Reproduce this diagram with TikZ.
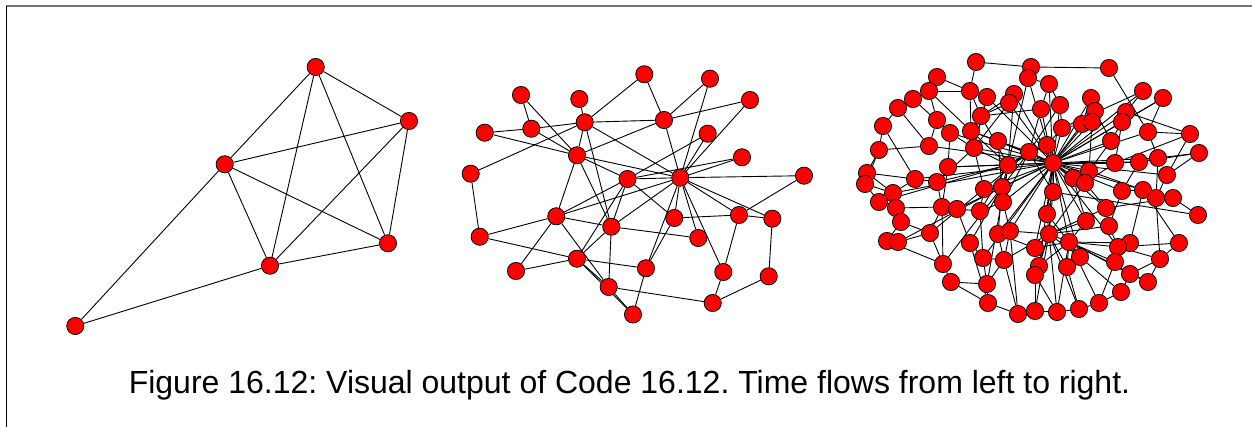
\documentclass[tikz,border=0pt]{standalone}
\usepackage{fontspec}
\setmainfont{Liberation Sans}
\pgfdeclarelayer{bg}
\pgfsetlayers{bg,main}
\frenchspacing
\begin{document}
\begin{tikzpicture}[x=1pt,y=-1pt,
  v/.style={circle,draw=black,fill=red,line width=0.75pt,minimum size=17.2pt,inner sep=0pt},
  e/.style={draw=black,line width=0.9pt},
  captiontext/.style={font=\fontsize{32pt}{36pt}\selectfont,anchor=base,inner sep=0pt}]
\useasboundingbox (0,0) rectangle (1252,427);
% frame
\draw[black!55,line width=2pt] (6,6.5) -- (1252,6.5);
\draw[black,line width=1pt] (6.5,6) -- (6.5,427);
% ---------- left graph ----------
\foreach \n/\x/\y in {a1/315.7/67, a2/409/121, a3/224.7/164.3, a4/388/243.3, a5/270/265.7, a6/75.3/326}
  \node[v] (\n) at (\x,\y) {};
% ---------- middle graph ----------
\foreach \n/\x/\y in {m1/521/95, m2/579.3/99, m3/584.7/122.3, m4/531.3/128.7, m5/484.7/132.7, m6/577/155.3,
  m7/470.7/173.7, m8/627.5/179, m9/556.3/216.3, m10/611.3/226.7, m11/479.7/236.7, m12/577/258.7,
  m13/516/271, m14/608.7/287, m15/633/314.5,
  n1/644.3/74.3, n2/710/78.7, n3/750/100, n4/664/120, n5/707.7/133.7, n6/742/157.3, n7/680.3/177.7,
  n8/804/175.7, n10/674.3/218, n11/739/215, n12/772.3/218.7, n13/698.3/238, n14/646/268.3,
  n15/723.3/272, n16/768.7/276.3, n17/712.7/303}
  \node[v] (\n) at (\x,\y) {};
% ---------- right graph ----------
\foreach \n/\x/\y in {r1/976/62, r2/1031/67, r3/1028/78, r4/937/77, r5/929/91, r6/970/91, r7/913/99,
  r8/987/97, r9/1014/94, r10/1009/103, r11/898/108, r12/981/116, r13/1041/109, r14/937/120,
  r15/883/126, r16/950/133, r17/971/131, r18/998/141, r19/974/148, r20/929/146, r21/879/150,
  r22/1029/152, r23/948/167, r24/1008/165, r25/867/173, r26/915/179, r27/937/182, r28/865/184,
  r29/893/193, r30/984/189, r31/1002/187, r32/1109/68, r33/1049/84, r34/1143/91, r35/1163/98,
  r36/1091/98, r37/1060/105, r38/1095/111, r39/1126/112, r40/1122/122, r41/1082/124, r42/1092/122,
  r43/1062/128, r44/1148/132, r45/1190/134, r46/1111/141, r47/1047/145, r48/1199/153, r49/1158/158,
  r50/1053/163, r51/1115/163, r52/1139/162, r53/1089/171, r54/1073/178, r55/1167/175, r56/1085/183,
  r57/1053/192, r58/1122/191, r59/1143/190, r60/1156/198, r61/1173/198, r62/1106/208, r63/1198/215,
  r64/1109/226, r65/1130/243, r66/1179/243, r67/1118/247, r68/1115/262, r69/1160/259, r70/1130/274,
  r71/1148/282, r72/1121/292, r73/1099/303, r74/1047/214, r75/1086/221, r76/1049/234, r77/1035/248,
  r78/1069/242, r79/1080/257, r80/1039/266, r81/1067/267, r82/1035/275, r83/1079/309, r84/1057/312,
  r85/1035/311, r87/879/202, r88/896/208, r89/942/207, r90/957/209, r91/980/211, r92/1003/202,
  r93/901/222, r94/930/233, r95/998/234, r96/1010/231, r97/970/243, r98/887/241, r99/898/242,
  r100/983/258, r101/1004/260, r102/943/264, r103/951/282, r104/987/284, r105/988/303, r106/1018/314}
  \node[v] (\n) at (\x,\y) {};
% caption
\node[captiontext] (caption) at (629.5,393) {Figure 16.12: Visual output of Code 16.12. Time flows from left to right.};
% ---------- edges ----------
\begin{pgfonlayer}{bg}
\foreach \a/\b in {a1/a3, a1/a2, a1/a5, a1/a4, a2/a3, a2/a5, a2/a4, a3/a5, a3/a4, a3/a6, a5/a4, a5/a6}
  \draw[e] (\a) -- (\b);
\foreach \a/\b in {m1/m4, m1/m6, m2/m3, m3/m6, m3/m4, m3/n4, m3/n1, m7/m3, m4/m5, m5/m6, m4/m6, m6/n4,
  m6/m8, m6/n7, m6/m9, m6/m10, m3/n7, m3/m10, m9/m8, m9/n7, m9/m10, m9/m11, m9/m13, m9/m14, m11/m7,
  m11/m12, m13/m12, m12/m10, m12/m8, m12/m14, m12/m15, m12/n14, m10/m14, m10/n13, m10/m8, m14/m15,
  m14/n17, n1/n4, n2/n4, n2/n7, n3/n4, n3/n7, n4/n7, n5/n7, n5/m8, n6/n7, n6/m8, n8/n7, n8/n11,
  n7/m8, n7/n10, n7/n11, n7/n12, n7/n13, n7/n15, n7/n14, n10/n14, n10/n11, m8/n10, n11/n12, n11/n15,
  n12/n16, n16/n17, n15/n17, m15/n14, m10/n7}
  \draw[e] (\a) -- (\b);
\foreach \a/\b in {r1/r2, r1/r6, r2/r3, r2/r32, r3/r50, r3/r24, r4/r5, r4/r6, r5/r6, r5/r14, r5/r17,
  r6/r17, r6/r12, r7/r11, r7/r16, r7/r5, r8/r12, r8/r50, r8/r19, r9/r12, r9/r50, r9/r24, r10/r12,
  r10/r50, r10/r19, r11/r15, r11/r20, r12/r13, r12/r24, r13/r50, r13/r33, r13/r22, r14/r16, r14/r20,
  r15/r26, r15/r21, r16/r23, r16/r50, r16/r19, r17/r18, r17/r50, r17/r24, r18/r22, r18/r50, r18/r31,
  r19/r50, r19/r24, r19/r30, r19/r27, r20/r21, r20/r50, r21/r28, r21/r25, r22/r50, r22/r24, r22/r47,
  r22/r31, r22/r57, r23/r50, r23/r89, r23/r24, r24/r50, r24/r31, r24/r92, r25/r26, r25/r29, r26/r27,
  r26/r29, r26/r50, r27/r24, r27/r89, r28/r29, r28/r87, r29/r93, r29/r50, r30/r50, r30/r31, r30/r91,
  r31/r50, r31/r92, r31/r95}
  \draw[e] (\a) -- (\b);
\foreach \a/\b in {r32/r44, r33/r37, r33/r50, r33/r3, r34/r39, r34/r43, r34/r50, r35/r44, r35/r50,
  r35/r40, r36/r38, r36/r50, r36/r41, r37/r50, r37/r43, r37/r22, r38/r50, r38/r41, r38/r46, r39/r40,
  r39/r50, r39/r45, r40/r50, r40/r46, r40/r51, r41/r50, r41/r43, r42/r50, r42/r53, r43/r50, r43/r47,
  r44/r45, r44/r49, r44/r50, r45/r55, r45/r51, r46/r50, r46/r53, r47/r50, r47/r24, r48/r55, r48/r52,
  r48/r49, r49/r60, r49/r52, r49/r50, r51/r52, r51/r50, r51/r56, r52/r50, r52/r58, r53/r50, r53/r54,
  r53/r59, r54/r50, r54/r56, r54/r75, r55/r50, r55/r60, r56/r50, r56/r62, r56/r76, r57/r50, r57/r63,
  r57/r74, r57/r76, r58/r59, r58/r50, r58/r64, r59/r60, r59/r66, r59/r50, r60/r61, r60/r69, r61/r63,
  r61/r62, r62/r64, r62/r50, r62/r76, r64/r67, r64/r76, r65/r67, r65/r78, r65/r59, r66/r69, r66/r67,
  r67/r69, r67/r78, r67/r50, r68/r78, r68/r73, r68/r65, r69/r70, r70/r71, r70/r78, r70/r72, r71/r69,
  r71/r78, r72/r73, r72/r79, r73/r83, r73/r78, r74/r76, r74/r50, r74/r78, r75/r76, r75/r78, r75/r50,
  r76/r50, r76/r77, r76/r78, r76/r80, r76/r84, r77/r50, r77/r78, r77/r95, r78/r50, r78/r80, r78/r81,
  r78/r84, r79/r76, r79/r78, r79/r50, r80/r82, r80/r50, r81/r76, r81/r83, r82/r76, r82/r85, r83/r84,
  r83/r76, r84/r85, r84/r82, r85/r106, r85/r76}
  \draw[e] (\a) -- (\b);
\foreach \a/\b in {r87/r88, r87/r24, r88/r93, r88/r89, r89/r90, r89/r94, r89/r102, r90/r91, r90/r50,
  r90/r97, r91/r92, r91/r24, r91/r100, r92/r50, r92/r22, r92/r96, r93/r98, r93/r94, r94/r102, r94/r22,
  r95/r96, r95/r50, r95/r101, r96/r50, r96/r101, r96/r76, r97/r100, r97/r105, r97/r31, r98/r99,
  r98/r102, r99/r94, r99/r31, r100/r101, r100/r104, r100/r50, r101/r104, r101/r76, r102/r103,
  r102/r31, r103/r104, r103/r105, r104/r105, r104/r24, r105/r106, r106/r101, r106/r96}
  \draw[e] (\a) -- (\b);
\end{pgfonlayer}
\end{tikzpicture}
\end{document}
